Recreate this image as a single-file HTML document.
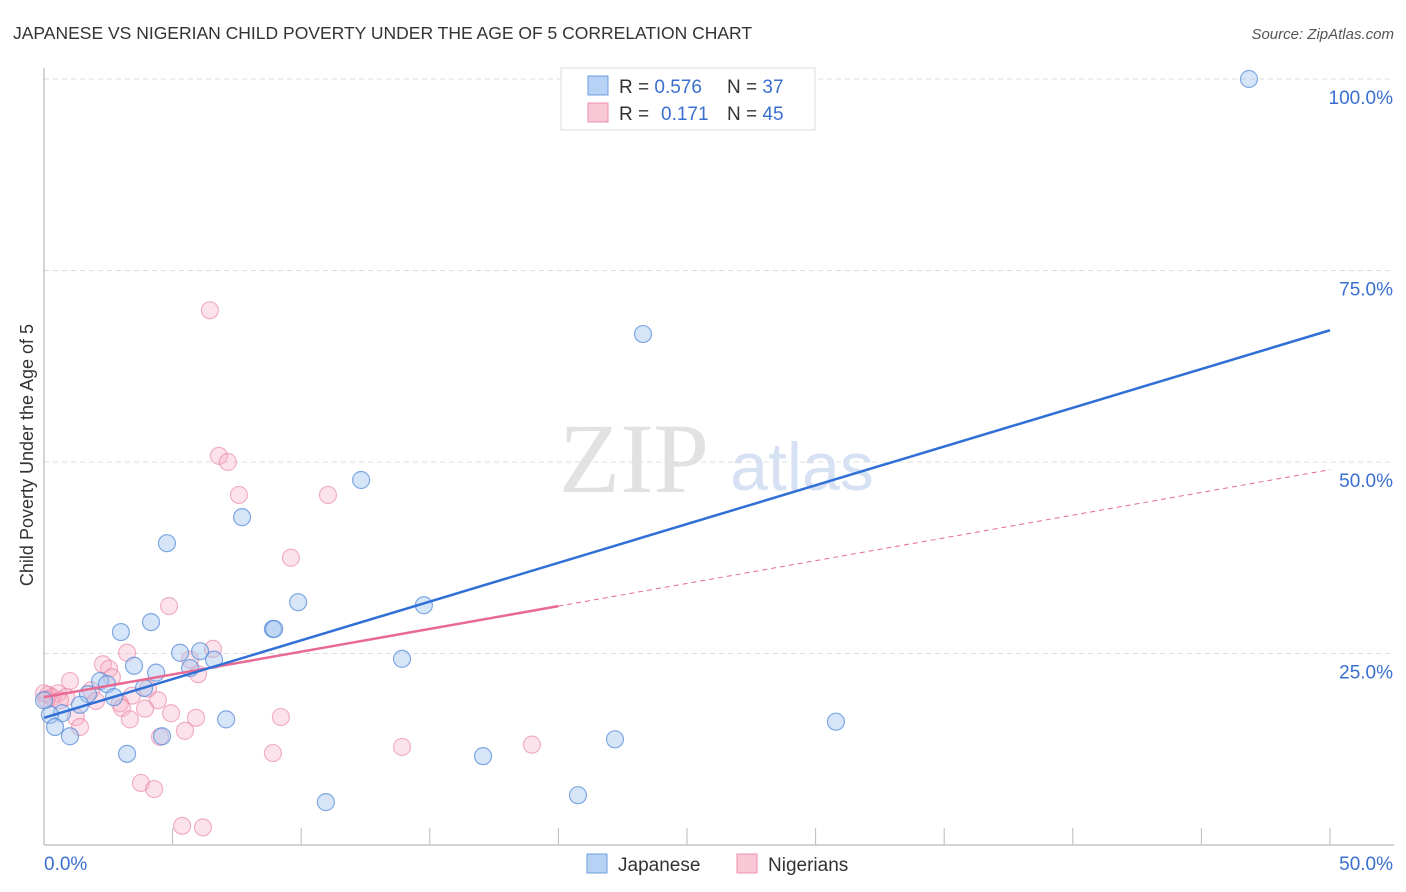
<!DOCTYPE html>
<html><head><meta charset="utf-8"><style>
body{margin:0;background:#fff;font-family:"Liberation Sans",sans-serif}
svg{display:block}
</style></head><body>
<svg id="chart" width="1406" height="892">
<text x="13" y="39" font-size="17.5" fill="#333">JAPANESE VS NIGERIAN CHILD POVERTY UNDER THE AGE OF 5 CORRELATION CHART</text>
<text x="1394" y="39" font-size="15" fill="#555" font-style="italic" text-anchor="end">Source: ZipAtlas.com</text>
<text x="0" y="0" transform="translate(33,455) rotate(-90)" font-size="18" fill="#333" text-anchor="middle">Child Poverty Under the Age of 5</text>
<text x="634" y="492" font-size="100" fill="#e2e2e2" font-family="Liberation Serif,serif" text-anchor="middle">ZIP</text>
<text x="802" y="490" font-size="68" fill="#d6e2f4" text-anchor="middle">atlas</text>
<g id="grid"></g><g id="axes"></g><g id="pts"></g><g id="lines"></g>
<g>
<rect x="561" y="68" width="254" height="62" fill="#fff" stroke="#ddd"/>
<rect x="588" y="76" width="20" height="19" fill="#b8d2f5" stroke="#6d9ee0"/>
<rect x="588" y="103" width="20" height="19" fill="#f9c8d6" stroke="#ec8fab"/>
<text x="619" y="93" font-size="19" fill="#333">R = <tspan fill="#3a6fd0">0.576</tspan><tspan x="727">N = </tspan><tspan fill="#3a6fd0">37</tspan></text>
<text x="619" y="120" font-size="19" fill="#333">R = <tspan x="661" fill="#3a6fd0">0.171</tspan><tspan x="727">N = </tspan><tspan fill="#3a6fd0">45</tspan></text>
</g>
<g>
<rect x="587" y="854" width="20" height="19" fill="#b8d2f5" stroke="#6d9ee0"/>
<text x="618" y="871" font-size="19" fill="#333">Japanese</text>
<rect x="737" y="854" width="20" height="19" fill="#f9c8d6" stroke="#ec8fab"/>
<text x="768" y="871" font-size="19" fill="#333">Nigerians</text>
</g>
</svg>
<script>
const yTicks=[25,50,75,100];
const yTickLabels=["25.0%","50.0%","75.0%","100.0%"];
const xTickLabels=["0.0%","50.0%"];
const japX=[46.85,23.29,12.33,7.70,4.78,9.88,14.77,8.90,2.99,4.16,5.29,6.07,6.61,13.92,3.50,4.36,5.68,2.18,2.45,3.89,1.71,2.72,1.40,0.70,0.23,0.43,1.01,7.08,30.79,4.59,3.23,17.07,22.20,20.76,10.96,0,8.95];
const japY=[100,66.7,47.65,42.8,39.4,31.7,31.3,28.2,27.8,29.1,25.1,25.3,24.2,24.3,23.4,22.5,23.1,21.4,21.0,20.5,19.7,19.3,18.3,17.2,17.0,15.4,14.2,16.4,16.1,14.2,11.9,11.6,13.8,6.5,5.6,18.9,28.2];
const nigX=[6.45,6.80,7.15,7.58,11.04,9.60,4.86,6.57,3.23,5.68,2.29,2.53,2.64,1.01,5.99,4.04,1.83,0.54,0.16,0.86,3.42,4.43,2.95,2.02,3.03,3.93,4.94,1.24,3.34,5.91,9.21,1.40,5.48,4.51,13.92,18.97,8.90,3.77,4.28,5.37,6.18,0.31,0.62,0,0.1];
const nigY=[69.8,50.8,50.0,45.7,45.7,37.5,31.2,25.6,25.1,24.2,23.6,23.0,21.9,21.4,22.3,20.4,20.2,19.8,19.6,19.3,19.5,18.9,18.5,18.8,17.9,17.8,17.2,16.7,16.4,16.6,16.7,15.4,14.9,14.1,12.8,13.1,12.0,8.1,7.3,2.5,2.3,19.3,18.9,19.8,19.0];
const japTrend=[16.6,67.2];
const nigTrend=[19.3,49.0];
const nigSolidEnd=20;
const X=v=>44+v/50*1286, Y=v=>845-v*7.66;
const NS="http://www.w3.org/2000/svg";
function mk(p,t,a){const e=document.createElementNS(NS,t);for(const k in a)e.setAttribute(k,a[k]);p.appendChild(e);return e;}
const grid=document.getElementById('grid'),axes=document.getElementById('axes'),pts=document.getElementById('pts'),lines=document.getElementById('lines');
yTicks.forEach((t,i)=>{
 const g=mk(grid,'line',{x1:44,x2:1394,y1:Y(t),y2:Y(t),stroke:'#ddd','stroke-dasharray':'5,4'});
 
 
 const l=mk(axes,'text',{x:1393,y:Y(t)+25,'font-size':19,fill:'#3a6fd0','text-anchor':'end'});
 l.textContent=yTickLabels[i];
 
 
});
const ya=mk(axes,'line',{x1:44,x2:44,y1:68,y2:845,stroke:'#aaa'});


const xa=mk(axes,'line',{x1:44,x2:1394,y1:845,y2:845,stroke:'#aaa'});


for(let i=1;i<=10;i++){const t=mk(axes,'line',{x1:X(i*5),x2:X(i*5),y1:828,y2:845,stroke:'#bbb'});
 
 }
[[0,'start',44],[50,'end',1393]].forEach((d,i)=>{const t=mk(axes,'text',{x:d[2],y:870,'font-size':19,fill:'#3a6fd0','text-anchor':d[1]});t.textContent=xTickLabels[i];
 
 });
nigX.forEach((x,i)=>{const c=mk(pts,'circle',{cx:X(x),cy:Y(nigY[i]),r:8.5,fill:'rgba(246,175,198,0.35)',stroke:'rgba(232,130,160,0.6)','stroke-width':1.2});
 
 });
japX.forEach((x,i)=>{const c=mk(pts,'circle',{cx:X(x),cy:Y(japY[i]),r:8.5,fill:'rgba(165,198,240,0.45)',stroke:'rgba(80,135,215,0.7)','stroke-width':1.2});
 
 });
const nAt=x=>nigTrend[0]+(nigTrend[1]-nigTrend[0])*x/50;
const nd=mk(lines,'line',{x1:X(nigSolidEnd),y1:Y(nAt(nigSolidEnd)),x2:X(50),y2:Y(nigTrend[1]),stroke:'#e86a93','stroke-width':1,'stroke-dasharray':'5,4'});


const ns=mk(lines,'line',{x1:X(0),y1:Y(nigTrend[0]),x2:X(nigSolidEnd),y2:Y(nAt(nigSolidEnd)),stroke:'#e86a93','stroke-width':2.5});


const jl=mk(lines,'line',{x1:X(0),y1:Y(japTrend[0]),x2:X(50),y2:Y(japTrend[1]),stroke:'#2f6fd6','stroke-width':2.5});


</script>
</body></html>
